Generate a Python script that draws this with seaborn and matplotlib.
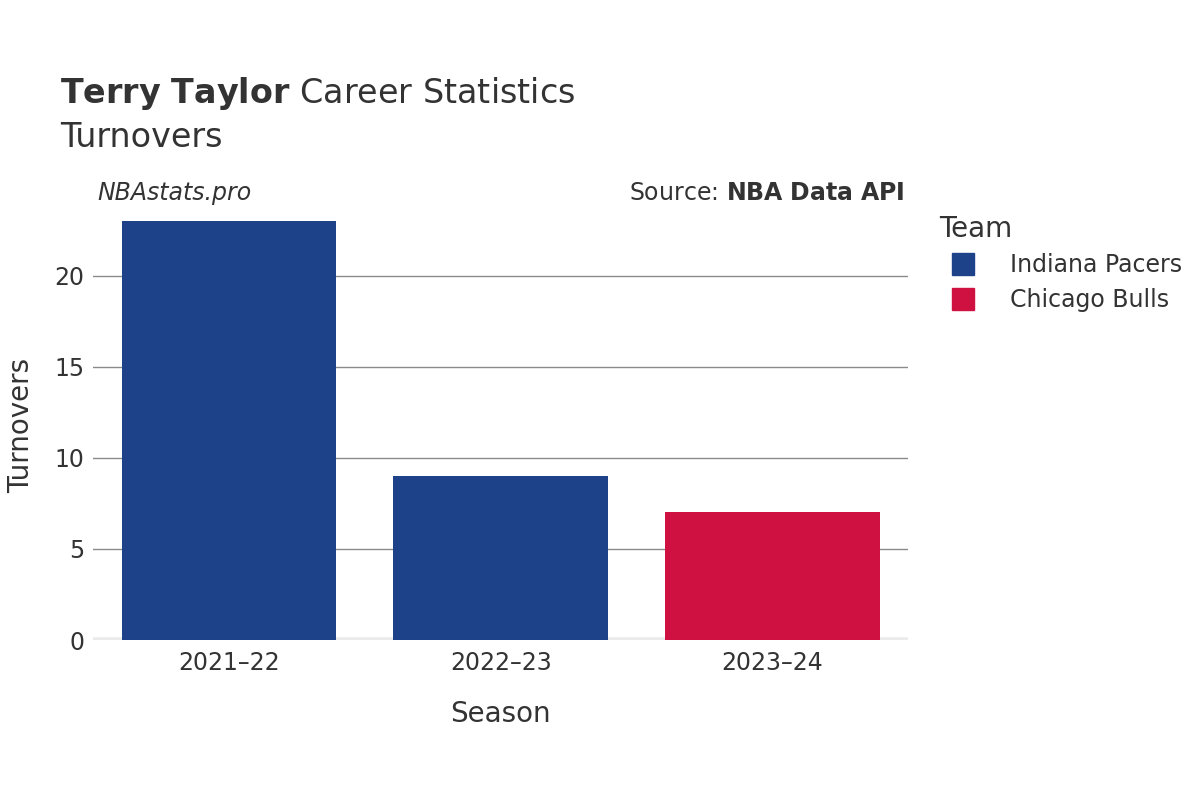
import matplotlib
matplotlib.use("Agg")
import matplotlib.pyplot as plt
import seaborn as sns
import pandas as pd
from matplotlib.lines import Line2D

seasons = ["2021–22", "2022–23", "2023–24"]
turnovers = [23, 9, 7]
teams = ["Indiana Pacers", "Indiana Pacers", "Chicago Bulls"]
team_colors = {"Indiana Pacers": "#1D428A", "Chicago Bulls": "#CE1141"}
yticks = [0, 5, 10, 15, 20]

df = pd.DataFrame({"Season": seasons, "Turnovers": turnovers, "Team": teams})

plt.rcParams["font.family"] = "DejaVu Sans"
fig = plt.figure(figsize=(12, 8), dpi=100)
ax = fig.add_axes([0.0775, 0.2, 0.6795, 0.5375])
sns.barplot(data=df, x="Season", y="Turnovers", hue="Team", palette=team_colors,
            dodge=False, width=0.79, saturation=1, ax=ax, legend=False, zorder=3)
ax.set_xlim(-0.5, 2.5)
ax.set_ylim(0, 23.6)
ax.set_yticks(yticks)
ax.grid(axis="y", color="#8a8a8a", linewidth=1, zorder=0)
ax.set_axisbelow(True)
for s in ax.spines.values():
    s.set_visible(False)
ax.axhline(0, color="#ebebeb", linewidth=4, zorder=2)
ax.tick_params(axis="both", length=0, labelsize=17, colors="#333333", pad=8)
ax.tick_params(axis="y", pad=6)
ax.set_xlabel("Season", fontsize=20, color="#333333", labelpad=18)
ax.set_ylabel("Turnovers", fontsize=20, color="#333333", labelpad=14)

fig.text(0.05, 0.871, "$\\bf{Terry\\ Taylor}$ Career Statistics", fontsize=24, color="#333333")
fig.text(0.05, 0.816, "Turnovers", fontsize=24, color="#333333")
fig.text(0.081, 0.75, "NBAstats.pro", fontsize=17, style="italic", color="#333333")
fig.text(0.754, 0.75, "Source: $\\bf{NBA\\ Data\\ API}$", fontsize=17, color="#333333", ha="right")

handles = [Line2D([], [], marker="s", linestyle="", markersize=16,
                  markerfacecolor=c, markeredgecolor=c) for c in team_colors.values()]
leg = fig.legend(handles, list(team_colors.keys()), title="Team", loc="upper left",
                 bbox_to_anchor=(0.765, 0.758), frameon=False, fontsize=17,
                 title_fontsize=20, labelspacing=0.45, handletextpad=1.0)
leg._legend_box.align = "left"
for t in leg.get_texts():
    t.set_color("#333333")
leg.get_title().set_color("#333333")

fig.savefig("out.png", dpi=100)
